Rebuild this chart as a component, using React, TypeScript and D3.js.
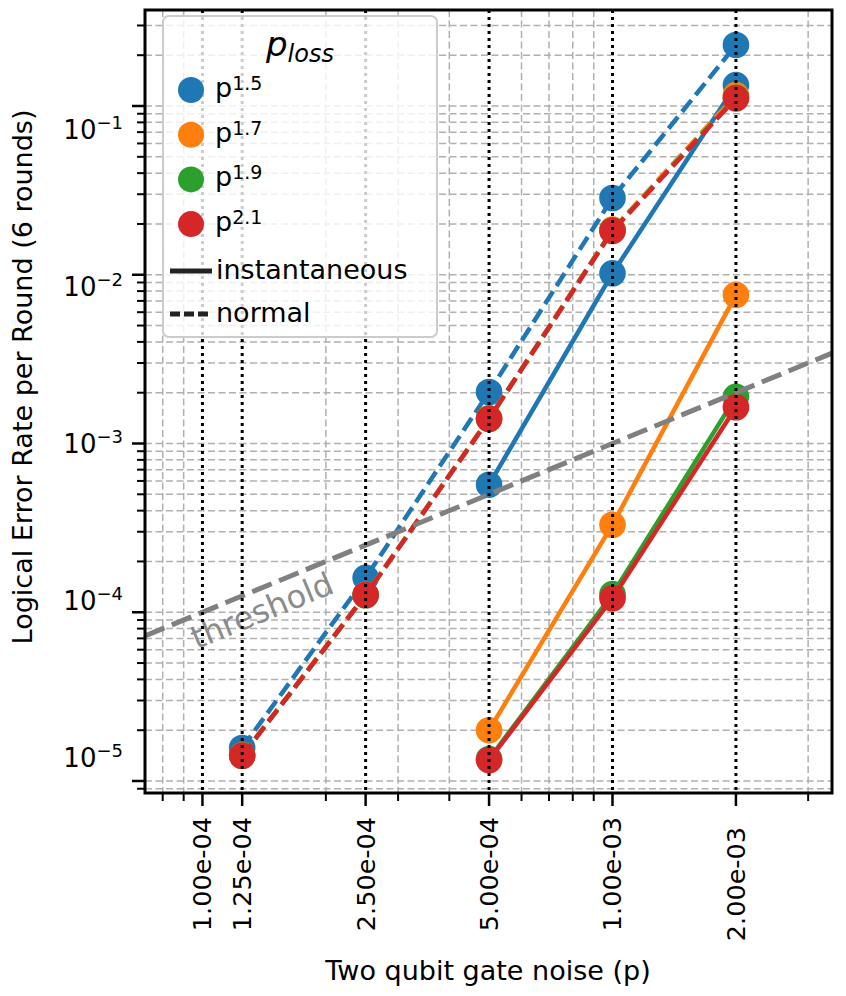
import React, { useRef, useEffect } from 'react';
import * as d3 from 'd3';

// two qubit gate noise levels (x)
const noiseLevels = [1.25e-4, 2.5e-4, 5e-4, 1e-3, 2e-3];

const lossExponents = ["1.5", "1.7", "1.9", "2.1"];
const lossColors = ["#1f77b4", "#ff7f0e", "#2ca02c", "#d62728"];

// instantaneous loss (solid lines) - only simulated from 5e-4 upwards
const instP15 = [null, null, 5.7e-4, 1.02e-2, 0.133];
const instP17 = [null, null, 2.0e-5, 3.3e-4, 7.6e-3];
const instP19 = [null, null, 1.35e-5, 1.28e-4, 1.89e-3];
const instP21 = [null, null, 1.33e-5, 1.21e-4, 1.64e-3];

// normal loss (dashed lines)
const normP15 = [1.57e-5, 1.6e-4, 2.02e-3, 2.85e-2, 0.23];
const normP17 = [1.42e-5, 1.27e-4, 1.41e-3, 1.85e-2, 0.116];
const normP19 = [1.41e-5, 1.26e-4, 1.4e-3, 1.83e-2, 0.112];
const normP21 = [1.41e-5, 1.265e-4, 1.4e-3, 1.82e-2, 0.111];

const instSeries = [instP15, instP17, instP19, instP21];
const normSeries = [normP15, normP17, normP19, normP21];

const xTickValues = [1e-4, 1.25e-4, 2.5e-4, 5e-4, 1e-3, 2e-3];
const xTickLabels = ["1.00e-04", "1.25e-04", "2.50e-04", "5.00e-04", "1.00e-03", "2.00e-03"];
const yTickValues = [1e-1, 1e-2, 1e-3, 1e-4, 1e-5];
const yTickExponents = ["\u22121", "\u22122", "\u22123", "\u22124", "\u22125"];

const W = 846;
const H = 996;
const FONT = "DejaVu Sans, sans-serif";

const Chart = () => {
  const svgRef = useRef(null);

  useEffect(() => {
    const svg = d3.select(svgRef.current);
    svg.selectAll("*").remove();

    const left = 145, right = 832, top = 10, bottom = 793;

    const x = d3.scaleLog().domain([7.243e-5, 3.43e-3]).range([left, right]);
    const y = d3.scaleLog().domain([8.49e-6, 0.3706]).range([bottom, top]);
    // tick labels on the y axis sit on a slightly tighter spacing than the ticks
    const yLabel = d3.scaleLog().domain([1e-1, 1e-5]).range([129, 757.6]);

    svg.append("rect").attr("width", W).attr("height", H).attr("fill", "white");

    svg.append("defs").append("clipPath").attr("id", "plotClip")
      .append("rect")
      .attr("x", left).attr("y", top)
      .attr("width", right - left).attr("height", bottom - top);

    const isMajorX = v => xTickValues.some(t => Math.abs(t - v) / t < 1e-6);
    const isMajorY = v => yTickValues.some(t => Math.abs(t - v) / t < 1e-6);
    const xMinor = x.ticks().filter(v => !isMajorX(v));
    const yAll = y.ticks();

    // grey dashed grid
    const grid = svg.append("g").attr("clip-path", "url(#plotClip)");
    grid.selectAll(".hgrid")
      .data(yAll)
      .enter()
      .append("line")
      .attr("x1", left).attr("x2", right)
      .attr("y1", d => y(d)).attr("y2", d => y(d))
      .style("stroke", "#b0b0b0")
      .style("stroke-width", 1.5)
      .style("stroke-dasharray", "7 3.5");
    grid.selectAll(".vgrid")
      .data(xMinor)
      .enter()
      .append("line")
      .attr("x1", d => x(d)).attr("x2", d => x(d))
      .attr("y1", top).attr("y2", bottom)
      .style("stroke", "#b0b0b0")
      .style("stroke-width", 1.5)
      .style("stroke-dasharray", "7 3.5");

    // data
    const plot = svg.append("g").attr("clip-path", "url(#plotClip)");
    const line = d3.line()
      .x(d => x(d[0]))
      .y(d => y(d[1]));

    lossColors.forEach((color, i) => {
      [instSeries[i], normSeries[i]].forEach((vals, k) => {
        const pts = noiseLevels.map((p, j) => [p, vals[j]]).filter(d => d[1] != null);
        plot.append("path")
          .datum(pts)
          .attr("d", line)
          .style("fill", "none")
          .style("stroke", color)
          .style("stroke-width", 4.5)
          .style("stroke-dasharray", k === 1 ? "15 6.5" : null);
        plot.selectAll(null)
          .data(pts)
          .enter()
          .append("circle")
          .attr("cx", d => x(d[0]))
          .attr("cy", d => y(d[1]))
          .attr("r", 13.3)
          .style("fill", color);
      });
    });

    // threshold p_L = p
    const tx = x.domain();
    plot.append("line")
      .attr("x1", x(tx[0])).attr("y1", y(tx[0]))
      .attr("x2", x(tx[1])).attr("y2", y(tx[1]))
      .style("stroke", "#808080")
      .style("stroke-width", 5)
      .style("stroke-dasharray", "21 8");

    const angle = Math.atan2(y(1e-4) - y(1e-3), x(1e-3) - x(1e-4)) * 180 / Math.PI;
    const tpx = x(1.397e-4), tpy = y(1.397e-4) + 23;
    svg.append("text")
      .attr("transform", `translate(${tpx},${tpy}) rotate(${-angle})`)
      .attr("text-anchor", "middle")
      .attr("dominant-baseline", "central")
      .style("font-family", FONT)
      .style("font-size", "32px")
      .style("fill", "#808080")
      .style("opacity", 0.9)
      .text("threshold");

    // black dotted verticals at the labelled noise levels
    svg.append("g").selectAll("line")
      .data(xTickValues)
      .enter()
      .append("line")
      .attr("x1", d => x(d)).attr("x2", d => x(d))
      .attr("y1", top).attr("y2", bottom)
      .style("stroke", "black")
      .style("stroke-width", 3)
      .style("stroke-dasharray", "3 4");

    // axes ticks
    const axes = svg.append("g");
    axes.selectAll(".xmaj")
      .data(xTickValues)
      .enter()
      .append("line")
      .attr("x1", d => x(d)).attr("x2", d => x(d))
      .attr("y1", bottom).attr("y2", bottom + 13)
      .style("stroke", "black").style("stroke-width", 2.5);
    axes.selectAll(".xmin")
      .data(xMinor)
      .enter()
      .append("line")
      .attr("x1", d => x(d)).attr("x2", d => x(d))
      .attr("y1", bottom).attr("y2", bottom + 8)
      .style("stroke", "black").style("stroke-width", 2);
    axes.selectAll(".ytick")
      .data(yAll)
      .enter()
      .append("line")
      .attr("x1", d => left - (isMajorY(d) ? 13 : 8))
      .attr("x2", left)
      .attr("y1", d => y(d)).attr("y2", d => y(d))
      .style("stroke", "black")
      .style("stroke-width", d => isMajorY(d) ? 2.5 : 2);

    // x tick labels, rotated
    axes.selectAll(".xlab")
      .data(xTickValues)
      .enter()
      .append("text")
      .attr("transform", (d, i) => `translate(${x(d) + 9},${i === xTickValues.length - 1 ? 827 : 817}) rotate(-90)`)
      .attr("text-anchor", "end")
      .style("font-family", FONT)
      .style("font-size", "25.5px")
      .style("fill", "black")
      .text((d, i) => xTickLabels[i]);

    // y tick labels 10^k
    yTickValues.forEach((v, i) => {
      const t = axes.append("text")
        .attr("x", 123)
        .attr("y", yLabel(v) + 9.5)
        .attr("text-anchor", "end")
        .style("font-family", FONT)
        .style("font-size", "26px")
        .style("fill", "black");
      t.append("tspan").text("10");
      t.append("tspan").attr("dy", -10).style("font-size", "18px").text(yTickExponents[i]);
    });

    // spines
    svg.append("rect")
      .attr("x", left).attr("y", top)
      .attr("width", right - left).attr("height", bottom - top)
      .style("fill", "none")
      .style("stroke", "black")
      .style("stroke-width", 3);

    // axis titles
    svg.append("text")
      .attr("x", (left + right) / 2 - 0.5)
      .attr("y", 980)
      .attr("text-anchor", "middle")
      .style("font-family", FONT)
      .style("font-size", "27px")
      .text("Two qubit gate noise (p)");

    svg.append("text")
      .attr("transform", "translate(32,377) rotate(-90)")
      .attr("text-anchor", "middle")
      .style("font-family", FONT)
      .style("font-size", "27px")
      .text("Logical Error Rate per Round (6 rounds)");

    // legend
    const lg = svg.append("g");
    lg.append("rect")
      .attr("x", 163).attr("y", 16)
      .attr("width", 274).attr("height", 321)
      .attr("rx", 6)
      .style("fill", "white")
      .style("fill-opacity", 0.8)
      .style("stroke", "#cccccc")
      .style("stroke-width", 2);

    const title = lg.append("text")
      .attr("x", 300).attr("y", 56)
      .attr("text-anchor", "middle")
      .style("font-family", FONT)
      .style("font-style", "italic")
      .style("font-size", "34px");
    title.append("tspan").text("p");
    title.append("tspan").attr("dy", 6).style("font-size", "24px").text("loss");

    lossColors.forEach((color, i) => {
      const cy = 90 + i * 44.7;
      lg.append("circle").attr("cx", 191).attr("cy", cy).attr("r", 13).style("fill", color);
      const t = lg.append("text")
        .attr("x", 215).attr("y", cy + 7)
        .style("font-family", FONT)
        .style("font-size", "27px");
      t.append("tspan").text("p");
      t.append("tspan").attr("dy", -7).style("font-size", "19px").text(lossExponents[i]);
    });

    [["instantaneous", null, 271], ["normal", "10 4", 314]].forEach(([label, dash, cy]) => {
      lg.append("line")
        .attr("x1", 170).attr("x2", 212)
        .attr("y1", cy).attr("y2", cy)
        .style("stroke", "#222")
        .style("stroke-width", 5)
        .style("stroke-dasharray", dash);
      lg.append("text")
        .attr("x", 216).attr("y", cy + 8)
        .style("font-family", FONT)
        .style("font-size", "27px")
        .text(label);
    });
  }, []);

  return <svg ref={svgRef} width={W} height={H} style={{ position: "absolute", left: 0, top: 0 }}></svg>;
};

export default function App() {
  return <Chart />;
}
